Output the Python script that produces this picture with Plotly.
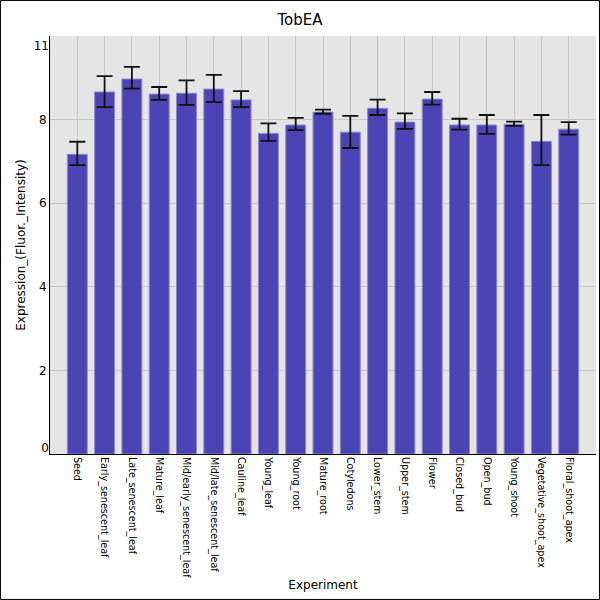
import plotly.graph_objects as go

# tissues along the x axis
experiments = [
    "Seed", "Early_senescent_leaf", "Late_senescent_leaf", "Mature_leaf",
    "Mid/early_senescent_leaf", "Mid/late_senescent_leaf", "Cauline_leaf",
    "Young_leaf", "Young_root", "Mature_root", "Cotyledons", "Lower_stem",
    "Upper_stem", "Flower", "Closed_bud", "Open_bud", "Young_shoot",
    "Vegetative_shoot_apex", "Floral_shoot_apex",
]
expression = [7.17, 8.66, 8.97, 8.61, 8.63, 8.73, 8.47, 7.67, 7.87, 8.18,
              7.70, 8.27, 7.94, 8.49, 7.87, 7.87, 7.89, 7.48, 7.77]
err_plus = [0.30, 0.38, 0.29, 0.17, 0.31, 0.34, 0.21, 0.24, 0.17, 0.06,
            0.39, 0.21, 0.21, 0.17, 0.15, 0.24, 0.06, 0.63, 0.17]
err_minus = [0.26, 0.36, 0.23, 0.14, 0.28, 0.31, 0.17, 0.18, 0.12, 0.04,
             0.38, 0.16, 0.16, 0.13, 0.11, 0.21, 0.04, 0.57, 0.13]

# y tick labels (the top label "11" sits without a gridline)
y_ticks = [0, 2, 4, 6, 8]
y_ticktext = ["", "2", "4", "6", "8"]
y_extra_ticks = [0.15, 9.77]
y_extra_text = ["0", "11"]

font = "DejaVu Sans"

fig = go.Figure()
fig.add_trace(go.Bar(
    x=experiments,
    y=expression,
    marker=dict(color="#4B44B4", line=dict(color="#8C88CC", width=1)),
    error_y=dict(type="data", symmetric=False, array=err_plus,
                 arrayminus=err_minus, color="#111111", thickness=1.8, width=8),
    showlegend=False,
))
# empty trace so the overlay axis with the odd labels gets drawn
fig.add_trace(go.Scatter(x=[experiments[0]], y=[None], yaxis="y2",
                         showlegend=False, hoverinfo="skip"))

fig.update_layout(
    width=600,
    height=600,
    margin=dict(l=50, r=4, t=36, b=146),
    paper_bgcolor="white",
    plot_bgcolor="#E5E5E5",
    bargap=0.27,
    font=dict(family=font, color="#000000"),
    title=dict(text="TobEA", x=0.5, xanchor="center", y=0.967, yanchor="middle",
               font=dict(size=15, family=font)),
    xaxis=dict(
        range=[-1, len(experiments)],
        tickangle=90,
        tickfont=dict(size=9.6, family=font),
        showgrid=True, gridcolor="#C8C8C8",
        showline=True, linecolor="black", linewidth=1,
        title=dict(text="Experiment", font=dict(size=12, family=font), standoff=3),
        automargin=False,
    ),
    yaxis=dict(
        range=[0, 10],
        tickvals=y_ticks, ticktext=y_ticktext,
        tickfont=dict(size=12, family=font),
        showgrid=True, gridcolor="#C8C8C8", zeroline=False,
        showline=True, linecolor="black", linewidth=1,
        title=dict(text="Expression_(Fluor._Intensity)",
                   font=dict(size=12, family=font), standoff=10),
        automargin=False,
    ),
    yaxis2=dict(
        range=[0, 10], overlaying="y", side="left",
        tickvals=y_extra_ticks, ticktext=y_extra_text,
        tickfont=dict(size=12, family=font),
        showgrid=False, zeroline=False, showline=False,
    ),
    shapes=[dict(type="rect", xref="paper", yref="paper",
                 x0=-0.0907, x1=1.0064, y0=-0.348, y1=1.085,
                 line=dict(color="black", width=1))],
)

# drop the page's default body margin so the figure sits at the window corner
fig.write_html("out.html", config={"displayModeBar": False},
               post_script="document.body.style.margin='0px';")
